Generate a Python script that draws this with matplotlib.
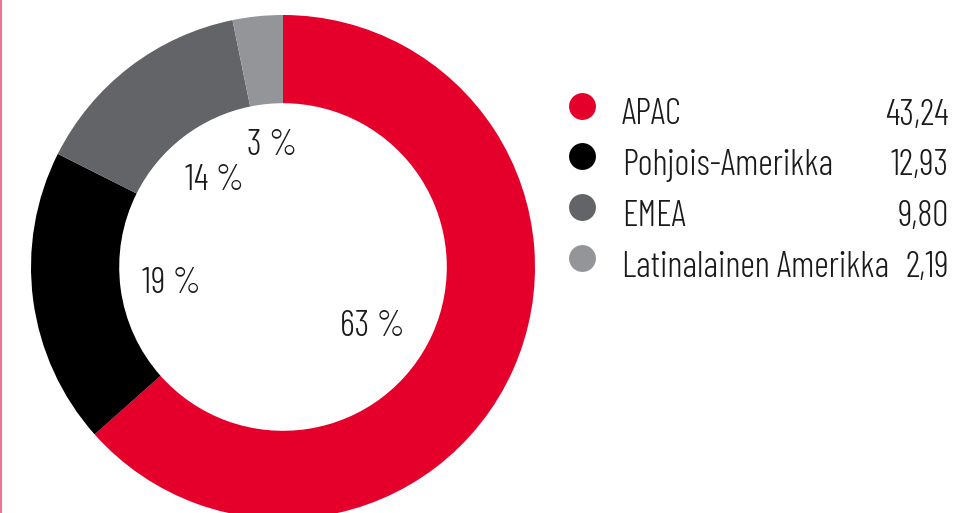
import numpy as np
import matplotlib.pyplot as plt
from matplotlib.lines import Line2D

plt.rcParams['font.family'] = ['Barlow Condensed', 'DejaVu Sans']
plt.rcParams['font.weight'] = 300

regions = ["APAC", "Pohjois-Amerikka", "EMEA", "Latinalainen Amerikka"]
values = [43.24, 12.93, 9.80, 2.19]
value_labels = ["43,24", "12,93", "9,80", "2,19"]
colors = ["#e4002b", "#000000", "#636468", "#939598"]

# label placement inside the hole: radius (fraction of outer) and angle nudge (deg)
label_r = [0.42, 0.444, 0.448, 0.498]
label_nudge = [-7.7, -0.8, -0.3, -0.8]

W, H = 958, 513
fig = plt.figure(figsize=(W / 100, H / 100), dpi=100)

# donut: centre (283, 267) px, outer radius 252 px
cx, cy, R = 283, 267, 252
ax = fig.add_axes([(cx - R) / W, (H - cy - R) / H, 2 * R / W, 2 * R / H])
wedges, _ = ax.pie(values, colors=colors, startangle=90, counterclock=False,
                   radius=1, wedgeprops=dict(width=0.35, linewidth=0))
ax.set_xlim(-1, 1)
ax.set_ylim(-1, 1)
ax.set_aspect('equal')
ax.axis('off')

cap_half = 12.7 / R  # half cap height in data units
total = sum(values)
for w, v, r, dn in zip(wedges, values, label_r, label_nudge):
    mid = np.deg2rad((w.theta1 + w.theta2) / 2 + dn)
    ax.text(r * np.cos(mid), r * np.sin(mid) - cap_half, f"{round(v / total * 100)} %",
            ha='center', va='baseline', fontsize=26, color='#1a1a1a')

# legend drawn in pixel coordinates
lax = fig.add_axes([0, 0, 1, 1])
lax.set_xlim(0, W)
lax.set_ylim(H, 0)
lax.axis('off')
row_y = 105.5
row_step = 50.7
for i, (name, lab, c) in enumerate(zip(regions, value_labels, colors)):
    y = row_y + i * row_step
    lax.scatter([582], [y], s=375, color=c, linewidths=0)
    lax.text(622, y + 19, name, ha='left', va='baseline', fontsize=26, color='#1a1a1a')
    lax.text(949, y + 19, lab, ha='right', va='baseline', fontsize=26, color='#1a1a1a')

fig.add_artist(Line2D([0.5 / W, 0.5 / W], [0, 1], color='#f0587a', linewidth=1.2))

fig.savefig("out.png", dpi=100)
